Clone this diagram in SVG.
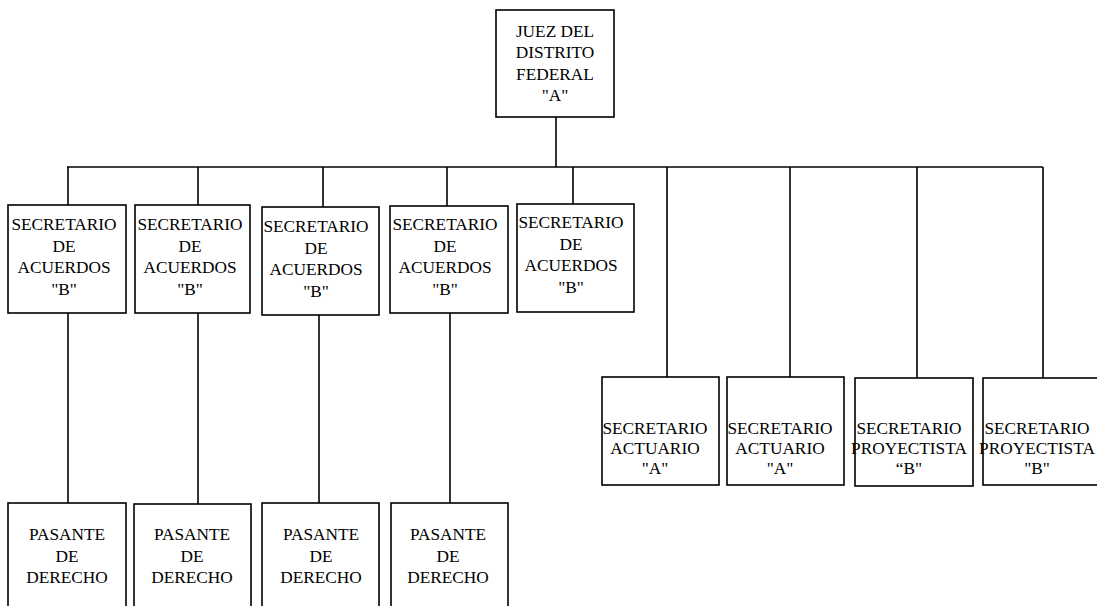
<svg xmlns="http://www.w3.org/2000/svg" width="1097" height="606" viewBox="0 0 1097 606" font-family="'Liberation Serif', 'Times New Roman', Times, serif">
<style>
.box{fill:#fff;stroke:#000;stroke-width:1.6}
.ln{fill:none;stroke:#000;stroke-width:1.6}
text{font-family:'Liberation Serif','Times New Roman',Times,serif;font-size:17.3px;fill:#000;text-anchor:middle}
</style>
<rect width="1097" height="606" fill="#fff"/>
<g id="connectors">
<line class="ln" x1="556" y1="117" x2="556" y2="167"/>
<line class="ln" x1="67" y1="167" x2="1043" y2="167"/>
<line class="ln" x1="68" y1="167" x2="68" y2="205"/>
<line class="ln" x1="198" y1="167" x2="198" y2="205"/>
<line class="ln" x1="323" y1="167" x2="323" y2="207"/>
<line class="ln" x1="447" y1="167" x2="447" y2="206"/>
<line class="ln" x1="573" y1="167" x2="573" y2="204"/>
<line class="ln" x1="667" y1="167" x2="667" y2="377"/>
<line class="ln" x1="790" y1="167" x2="790" y2="377"/>
<line class="ln" x1="917" y1="167" x2="917" y2="378"/>
<line class="ln" x1="1043" y1="167" x2="1043" y2="378"/>
<line class="ln" x1="68" y1="313" x2="68" y2="503"/>
<line class="ln" x1="198" y1="313" x2="198" y2="504"/>
<line class="ln" x1="319" y1="315" x2="319" y2="503"/>
<line class="ln" x1="450" y1="313" x2="450" y2="503"/>
</g>
<g id="n-juez">
<rect class="box" x="496" y="10" width="118" height="107"/>
<text x="555" y="37">JUEZ DEL</text>
<text x="555" y="58">DISTRITO</text>
<text x="555" y="80">FEDERAL</text>
<text x="555" y="101">"A"</text>
</g>
<g id="n-sa1">
<rect class="box" x="8" y="205" width="118" height="108"/>
<text x="64" y="230">SECRETARIO</text>
<text x="64" y="252">DE</text>
<text x="64" y="273">ACUERDOS</text>
<text x="64" y="295">"B"</text>
</g>
<g id="n-sa2">
<rect class="box" x="135" y="205" width="115" height="108"/>
<text x="190" y="230">SECRETARIO</text>
<text x="190" y="252">DE</text>
<text x="190" y="273">ACUERDOS</text>
<text x="190" y="295">"B"</text>
</g>
<g id="n-sa3">
<rect class="box" x="262" y="207" width="117" height="108"/>
<text x="316" y="232">SECRETARIO</text>
<text x="316" y="254">DE</text>
<text x="316" y="275">ACUERDOS</text>
<text x="316" y="297">"B"</text>
</g>
<g id="n-sa4">
<rect class="box" x="390" y="206" width="118" height="107"/>
<text x="445" y="230">SECRETARIO</text>
<text x="445" y="252">DE</text>
<text x="445" y="273">ACUERDOS</text>
<text x="445" y="295">"B"</text>
</g>
<g id="n-sa5">
<rect class="box" x="517" y="204" width="117" height="108"/>
<text x="571" y="228">SECRETARIO</text>
<text x="571" y="250">DE</text>
<text x="571" y="271">ACUERDOS</text>
<text x="571" y="293">"B"</text>
</g>
<g id="n-act1">
<rect class="box" x="602" y="377" width="117" height="108"/>
<text x="655" y="434">SECRETARIO</text>
<text x="655" y="454">ACTUARIO</text>
<text x="655" y="474">"A"</text>
</g>
<g id="n-act2">
<rect class="box" x="727" y="377" width="117" height="108"/>
<text x="780" y="434">SECRETARIO</text>
<text x="780" y="454">ACTUARIO</text>
<text x="780" y="474">"A"</text>
</g>
<g id="n-pro1">
<rect class="box" x="855" y="378" width="118" height="108"/>
<text x="909" y="434">SECRETARIO</text>
<text x="909" y="454">PROYECTISTA</text>
<text x="909" y="474">“B"</text>
</g>
<g id="n-pro2">
<rect class="box" x="983" y="378" width="120" height="107"/>
<text x="1037" y="434">SECRETARIO</text>
<text x="1037" y="454">PROYECTISTA</text>
<text x="1037" y="474">"B"</text>
</g>
<g id="n-pas1">
<rect class="box" x="8" y="503" width="118" height="120"/>
<text x="67" y="540">PASANTE</text>
<text x="67" y="562">DE</text>
<text x="67" y="583">DERECHO</text>
</g>
<g id="n-pas2">
<rect class="box" x="134" y="504" width="117" height="120"/>
<text x="192" y="540">PASANTE</text>
<text x="192" y="562">DE</text>
<text x="192" y="583">DERECHO</text>
</g>
<g id="n-pas3">
<rect class="box" x="262" y="503" width="117" height="120"/>
<text x="321" y="540">PASANTE</text>
<text x="321" y="562">DE</text>
<text x="321" y="583">DERECHO</text>
</g>
<g id="n-pas4">
<rect class="box" x="391" y="503" width="117" height="120"/>
<text x="448" y="540">PASANTE</text>
<text x="448" y="562">DE</text>
<text x="448" y="583">DERECHO</text>
</g>
</svg>
